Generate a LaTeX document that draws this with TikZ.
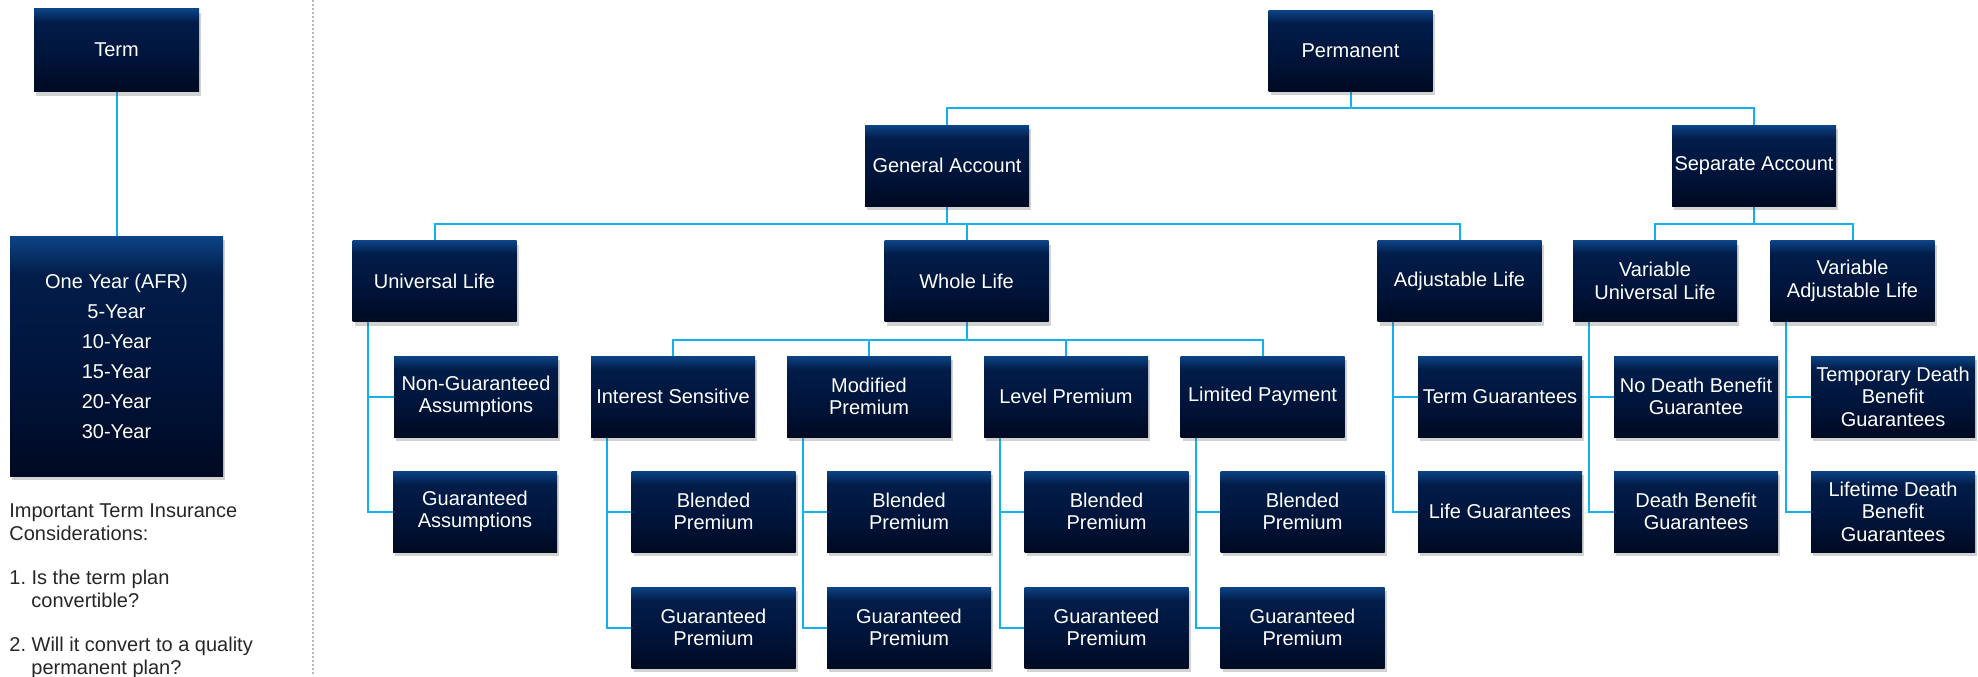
\documentclass[tikz,border=0pt]{standalone}
\usepackage{fontspec}
\setmainfont{Liberation Sans}
\usetikzlibrary{shadows,backgrounds,calc}
\definecolor{navyA}{HTML}{000A22}
\definecolor{navyB}{HTML}{00143A}
\definecolor{navyC}{HTML}{021D4A}
\definecolor{navyD}{HTML}{0D4486}
\definecolor{connc}{HTML}{12B0EC}
\pgfdeclareverticalshading{navybox}{100bp}{color(0bp)=(navyA); color(25bp)=(navyA); color(45bp)=(navyB); color(67bp)=(navyC); color(75bp)=(navyD); color(100bp)=(navyD)}
\tikzset{
  box/.style={shading=navybox, draw=none, text=white, align=center,
    minimum width=82pt, minimum height=40.5pt, inner sep=1pt,
    font=\fontsize{10}{11.3}\selectfont,
    drop shadow={shadow xshift=1pt, shadow yshift=-2pt, opacity=0.25, fill=black!70}},
  conn/.style={draw=connc, line width=1pt},
  notes/.style={text=black!85, align=left, inner sep=0pt, font=\fontsize{10}{11.5}\selectfont}
}
\begin{document}
\begin{tikzpicture}[x=0.5pt,y=-0.5pt]
\useasboundingbox (0,0) rectangle (1978,676);
% left column
\node[box, minimum width=82.5pt, minimum height=41.5pt] (term) at (116.5,50) {Term};
\node[box, minimum width=106.5pt, minimum height=120pt, font=\fontsize{10}{15}\selectfont] (terms) at (116.5,356)
  {One Year (AFR)\\5-Year\\10-Year\\15-Year\\20-Year\\30-Year};
\node[notes, anchor=north west] (notes) at (9,503)
  {Important Term Insurance\\Considerations:\\[10.5pt]
   1.~Is the term plan\\\hspace*{11pt}convertible?\\[10.5pt]
   2.~Will it convert to a quality\\\hspace*{11pt}permanent plan?};
\draw[gray!55, line width=0.8pt, dash pattern=on 0.8pt off 1.2pt] (313,0) -- (313,676);
% level 0-2
\node[box] (perm) at (1350.5,50.5) {Permanent};
\node[box] (ga) at (947,165.5) {General Account};
\node[box] (sa) at (1754,165.5) {Separate Account};
\node[box] (ul) at (434.5,281) {Universal Life};
\node[box] (wl) at (966.5,281) {Whole Life};
\node[box] (al) at (1459.5,281) {Adjustable Life};
\node[box] (vul) at (1655,281) {Variable\\Universal Life};
\node[box] (val) at (1852.5,281) {Variable\\Adjustable Life};
% level 3
\node[box] (nga) at (476,396.5) {Non-Guaranteed\\Assumptions};
\node[box] (gas) at (475,511.5) {Guaranteed\\Assumptions};
\node[box] (is) at (673,396.5) {Interest Sensitive};
\node[box] (mp) at (869,396.5) {Modified\\Premium};
\node[box] (lvp) at (1066,396.5) {Level Premium};
\node[box] (lp) at (1262.5,396.5) {Limited Payment};
\node[box] (tg) at (1500,396.5) {Term Guarantees};
\node[box] (lg) at (1500,511.5) {Life Guarantees};
\node[box] (ndbg) at (1696,396.5) {No Death Benefit\\Guarantee};
\node[box] (dbg) at (1696,511.5) {Death Benefit\\Guarantees};
\node[box] (tdbg) at (1893,396.5) {Temporary Death\\Benefit\\Guarantees};
\node[box] (ldbg) at (1893,511.5) {Lifetime Death\\Benefit\\Guarantees};
% level 4-5
\node[box] (isb) at (713.5,511.5) {Blended\\Premium};
\node[box] (isg) at (713.5,627.5) {Guaranteed\\Premium};
\node[box] (mpb) at (909,511.5) {Blended\\Premium};
\node[box] (mpg) at (909,627.5) {Guaranteed\\Premium};
\node[box] (lvpb) at (1106.5,511.5) {Blended\\Premium};
\node[box] (lvpg) at (1106.5,627.5) {Guaranteed\\Premium};
\node[box] (lpb) at (1302.5,511.5) {Blended\\Premium};
\node[box] (lpg) at (1302.5,627.5) {Guaranteed\\Premium};
% connectors
\begin{scope}[on background layer]
\draw[conn] (term.south) -- (terms.north);
\draw[conn] (perm.south) -- ++(0,17) -| (ga.north);
\draw[conn] (perm.south) -- ++(0,17) -| (sa.north);
\draw[conn] (ga.south) -- ++(0,18) -| (ul.north);
\draw[conn] (ga.south) -- ++(0,18) -| (wl.north);
\draw[conn] (ga.south) -- ++(0,18) -| (al.north);
\draw[conn] (sa.south) -- ++(0,18) -| (vul.north);
\draw[conn] (sa.south) -- ++(0,18) -| (val.north);
\draw[conn] (wl.south) -- ++(0,18) -| (is.north);
\draw[conn] (wl.south) -- ++(0,18) -| (mp.north);
\draw[conn] (wl.south) -- ++(0,18) -| (lvp.north);
\draw[conn] (wl.south) -- ++(0,18) -| (lp.north);
\foreach \p/\a/\b in {ul/nga/gas, is/isb/isg, mp/mpb/mpg, lvp/lvpb/lvpg, lp/lpb/lpg, al/tg/lg, vul/ndbg/dbg, val/tdbg/ldbg}{
  \draw[conn] ([xshift=8pt]\p.south west) |- (\a.west);
  \draw[conn] ([xshift=8pt]\p.south west) |- (\b.west);
}
\end{scope}
\end{tikzpicture}
\end{document}
